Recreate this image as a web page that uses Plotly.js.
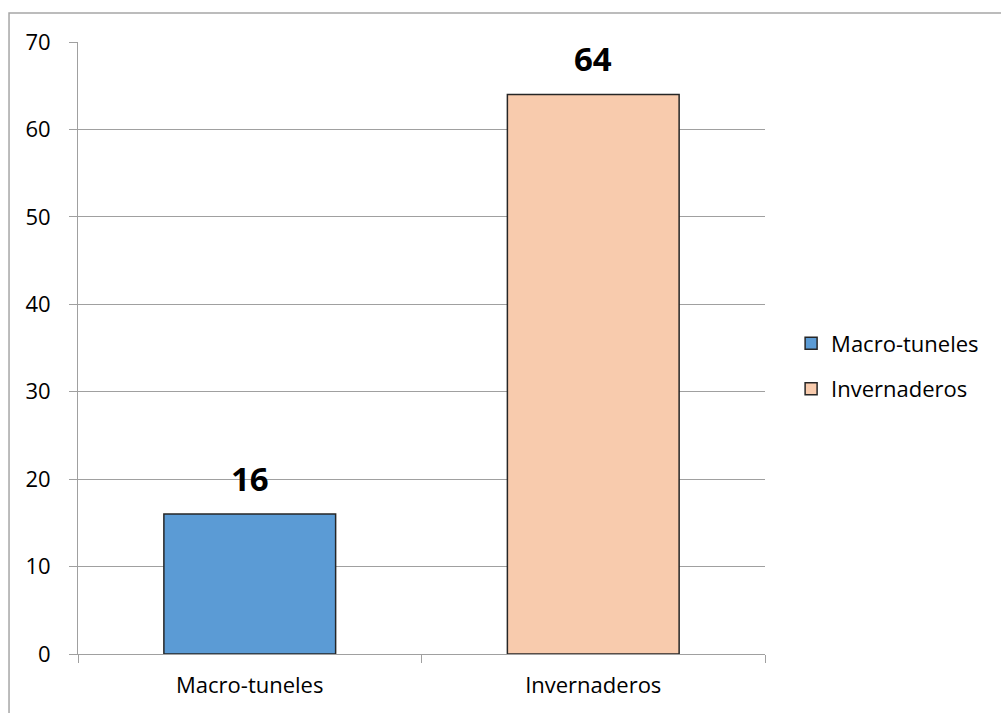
<!DOCTYPE html>
<html>
<head>
<meta charset="utf-8">
<script src="https://cdn.plot.ly/plotly-3.0.1.min.js"></script>
<style>html,body{margin:0;padding:0;background:#fff;}#chart{width:1001px;height:713px;}</style>
</head>
<body>
<div id="chart"></div>
<script>
var categories = ["Macro-tuneles", "Invernaderos"];
var values = [16, 64];
var seriesNames = ["Macro-tuneles", "Invernaderos"];
var colors = ["#5b9bd5", "#f8cbad"];
var yTicks = [0, 10, 20, 30, 40, 50, 60, 70];

var FONT = "Open Sans, Noto Sans, sans-serif";

var traces = categories.map(function (c, i) {
  return {
    type: "bar",
    name: seriesNames[i],
    x: [c],
    y: [values[i]],
    width: 0.5,
    marker: { color: colors[i], line: { color: "#262626", width: 1.5 } },
    hoverinfo: "x+y",
    legendgroup: "g" + i
  };
});

var annotations = categories.map(function (c, i) {
  return {
    x: c, y: values[i], xref: "x", yref: "y",
    text: "<b>" + values[i] + "</b>",
    showarrow: false, yanchor: "middle", yshift: 36,
    font: { family: FONT, size: 33, color: "#000" }
  };
});

var layout = {
  width: 1001, height: 713,
  margin: { l: 78, r: 236, t: 42, b: 59 },
  paper_bgcolor: "#fff", plot_bgcolor: "#fff",
  barmode: "overlay",
  showlegend: true,
  font: { family: FONT, size: 22, color: "#000" },
  xaxis: {
    type: "category",
    categoryorder: "array", categoryarray: categories,
    showline: true, linecolor: "#a0a0a0", linewidth: 1,
    ticks: "outside", tickson: "boundaries", ticklen: 8, tickcolor: "#a0a0a0",
    ticklabelstandoff: 12,
    showgrid: false, zeroline: false,
    tickfont: { family: FONT, size: 22, color: "#000" }
  },
  yaxis: {
    range: [0, 70],
    tickvals: yTicks,
    showline: true, linecolor: "#a0a0a0", linewidth: 1,
    ticks: "outside", ticklen: 8, tickcolor: "#a0a0a0",
    ticklabelstandoff: 14,
    showgrid: true, gridcolor: "#a0a0a0", gridwidth: 1,
    zeroline: false,
    tickfont: { family: FONT, size: 22, color: "#000" }
  },
  legend: {
    x: 1.038, xanchor: "left", y: 0.47, yanchor: "middle",
    font: { family: FONT, size: 22, color: "#000" },
    traceorder: "grouped", tracegroupgap: 14,
    bgcolor: "rgba(0,0,0,0)"
  },
  annotations: annotations,
  shapes: [{
    type: "rect", xref: "paper", yref: "paper",
    x0: -0.1004, x1: 1.6, y0: -0.3, y1: 1.0474,
    line: { color: "#a6a6a6", width: 1.5 }, fillcolor: "rgba(0,0,0,0)", layer: "below"
  }]
};

Plotly.newPlot("chart", traces, layout, { displayModeBar: false, staticPlot: false });
</script>
</body>
</html>
